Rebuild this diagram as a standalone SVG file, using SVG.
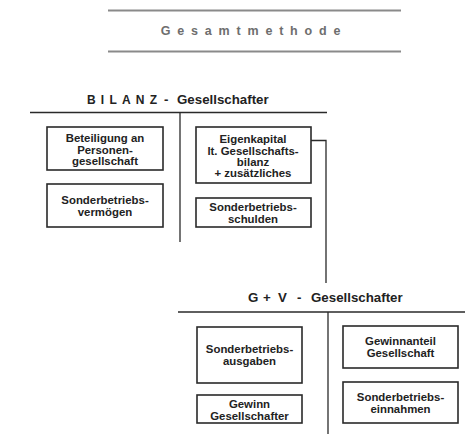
<svg xmlns="http://www.w3.org/2000/svg" width="465" height="434" viewBox="0 0 465 434">
<style>
.bx{fill:#fff;stroke:#2a2a2a;stroke-width:1.6}
.ln{stroke:#2a2a2a;stroke-width:1.3;fill:none}
.t{font-family:"Liberation Sans",Arial,sans-serif;font-weight:bold;font-size:11.4px;fill:#222;text-anchor:middle}
.h{font-family:"Liberation Sans",Arial,sans-serif;font-weight:bold;font-size:13.3px;fill:#222}
</style>
<rect width="465" height="434" fill="#fff"/>
<g id="title">
<line x1="108" y1="10.5" x2="401" y2="10.5" stroke="#8a8a8a" stroke-width="1.8"/>
<line x1="108" y1="51.5" x2="401" y2="51.5" stroke="#8a8a8a" stroke-width="1.8"/>
<text x="254" y="35" text-anchor="middle" font-family="Liberation Sans,Arial,sans-serif" font-weight="bold" font-size="12.5" letter-spacing="6.8" fill="#6e6e6e">Gesamtmethode</text>
</g>
<g id="bilanz-header">
<text class="h" y="104"><tspan x="87" letter-spacing="5.2" font-size="12">BILANZ</tspan><tspan x="164">-</tspan><tspan x="177">Gesellschafter</tspan></text>
</g>
<g id="gv-header">
<text class="h" y="302"><tspan x="248">G</tspan><tspan x="263">+</tspan><tspan x="278">V</tspan><tspan x="297">-</tspan><tspan x="311">Gesellschafter</tspan></text>
</g>
<g id="connectors">
<line class="ln" x1="30" y1="112.5" x2="327" y2="112.5"/>
<line class="ln" x1="180" y1="112.5" x2="180" y2="242"/>
<polyline class="ln" points="311,140.5 326,140.5 326,283"/>
<line class="ln" x1="178" y1="312" x2="465" y2="312"/>
<line class="ln" x1="328" y1="312" x2="328" y2="434"/>
</g>
<g id="beteiligung">
<rect class="bx" x="47" y="127" width="116" height="43"/>
<text class="t" x="105" y="142">Beteiligung an</text>
<text class="t" x="105" y="153.5">Personen-</text>
<text class="t" x="105" y="165">gesellschaft</text>
</g>
<g id="sbv">
<rect class="bx" x="47" y="184" width="116" height="43"/>
<text class="t" x="105" y="204">Sonderbetriebs-</text>
<text class="t" x="105" y="216">vermögen</text>
</g>
<g id="eigenkapital">
<rect class="bx" x="196" y="127" width="115" height="56"/>
<text class="t" x="253" y="143">Eigenkapital</text>
<text class="t" x="253" y="154.5">lt. Gesellschafts-</text>
<text class="t" x="253" y="166">bilanz</text>
<text class="t" x="253" y="177">+ zusätzliches</text>
</g>
<g id="sbs">
<rect class="bx" x="196" y="198" width="115" height="29"/>
<text class="t" x="253" y="211">Sonderbetriebs-</text>
<text class="t" x="253" y="222.5">schulden</text>
</g>
<g id="sba">
<rect class="bx" x="197" y="327" width="105" height="56"/>
<text class="t" x="249.5" y="353">Sonderbetriebs-</text>
<text class="t" x="249.5" y="364.5">ausgaben</text>
</g>
<g id="gewinn">
<rect class="bx" x="197" y="395" width="105" height="28"/>
<text class="t" x="249.5" y="408">Gewinn</text>
<text class="t" x="249.5" y="419.5">Gesellschafter</text>
</g>
<g id="gewinnanteil">
<rect class="bx" x="343" y="326" width="115" height="42"/>
<text class="t" x="400.5" y="345">Gewinnanteil</text>
<text class="t" x="400.5" y="357">Gesellschaft</text>
</g>
<g id="sbe">
<rect class="bx" x="343" y="382" width="115" height="41"/>
<text class="t" x="400.5" y="401">Sonderbetriebs-</text>
<text class="t" x="400.5" y="412.5">einnahmen</text>
</g>
</svg>
